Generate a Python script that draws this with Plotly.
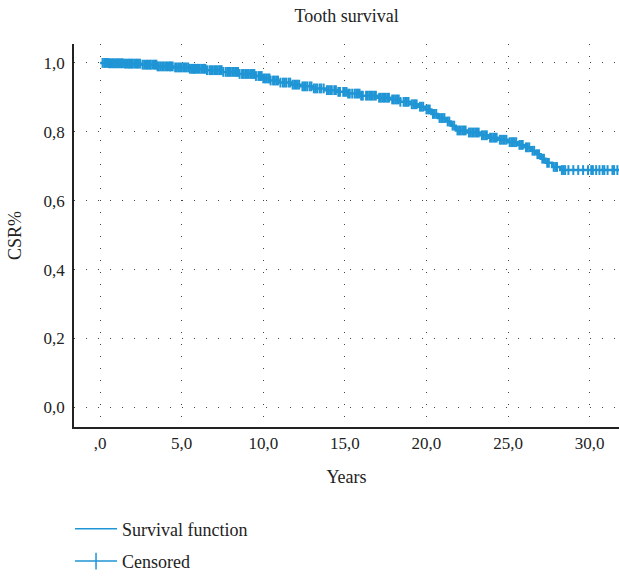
import plotly.graph_objects as go
import bisect

# Kaplan-Meier step points (event times in years, survival after event)
event_times = [0.0, 0.5, 1.5, 2.5, 3.5, 4.5, 5.5, 6.5, 7.5, 8.5, 9.5, 10.0, 10.4, 11.0,
               11.7, 12.3, 13.0, 13.8, 14.5, 15.2, 16.0, 17.0, 17.8, 18.4, 19.0, 19.5,
               19.9, 20.3, 20.7, 21.2, 21.5, 21.8, 22.5, 23.3, 23.8, 24.4, 25.0, 25.6,
               26.0, 26.4, 26.7, 27.0, 27.3, 27.7, 28.2]
survival = [1.0, 0.999, 0.998, 0.995, 0.990, 0.987, 0.983, 0.979, 0.974, 0.968, 0.962,
            0.955, 0.949, 0.943, 0.937, 0.932, 0.926, 0.921, 0.916, 0.911, 0.905, 0.899,
            0.894, 0.887, 0.880, 0.873, 0.865, 0.852, 0.840, 0.830, 0.818, 0.804, 0.798,
            0.790, 0.783, 0.777, 0.770, 0.762, 0.755, 0.745, 0.735, 0.722, 0.710, 0.698,
            0.689]
end_time = 31.8

# Censored observation times (years)
censored_times = [0.15, 0.25, 0.3, 0.4, 0.48, 0.55, 0.62, 0.7, 0.78, 0.85, 0.95, 1.02, 1.1,
                  1.18, 1.25, 1.33, 1.4, 1.52, 1.6, 1.7, 1.78, 1.85, 1.93, 2.0, 2.1, 2.2,
                  2.28, 2.35, 2.45, 2.6, 2.7, 2.8, 2.88, 2.95, 3.05, 3.1, 3.2, 3.3, 3.38,
                  3.45, 3.52, 3.6, 3.7, 3.8, 3.9, 4.0, 4.1, 4.2, 4.28, 4.35, 4.45, 4.6,
                  4.7, 4.8, 4.9, 5.0, 5.1, 5.2, 5.3, 5.4, 5.5, 5.6, 5.68, 5.75, 5.82, 5.9,
                  6.0, 6.1, 6.2, 6.3, 6.38, 6.45, 6.55, 6.7, 6.8, 6.9, 7.0, 7.1, 7.2, 7.3,
                  7.38, 7.45, 7.55, 7.7, 7.8, 7.9, 8.0, 8.1, 8.2, 8.3, 8.38, 8.45, 8.55,
                  8.7, 8.8, 8.9, 9.0, 9.1, 9.2, 9.3, 9.38, 9.45, 9.55, 9.7, 9.8, 9.9,
                  10.0, 10.1, 10.2, 10.3, 10.38, 10.45, 10.6, 10.7, 10.8, 10.9, 11.05,
                  11.2, 11.3, 11.4, 11.55, 11.65, 11.8, 11.9, 12.0, 12.1, 12.2, 12.4,
                  12.5, 12.6, 12.7, 12.85, 12.95, 13.1, 13.2, 13.3, 13.45, 13.55, 13.7,
                  13.9, 14.0, 14.1, 14.2, 14.35, 14.45, 14.6, 14.7, 14.9, 15.0, 15.1,
                  15.2, 15.3, 15.45, 15.6, 15.7, 15.8, 15.9, 16.0, 16.1, 16.3, 16.4,
                  16.5, 16.6, 16.7, 16.8, 16.9, 17.1, 17.2, 17.3, 17.4, 17.5, 17.6, 17.7,
                  17.9, 18.0, 18.1, 18.2, 18.3, 18.4, 18.6, 18.7, 18.8, 18.9, 19.1, 19.2,
                  19.3, 19.4, 19.6, 19.7, 19.8, 20.0, 20.1, 20.2, 20.4, 20.5, 20.6, 20.8,
                  20.9, 21.0, 21.1, 21.3, 21.4, 21.6, 21.7, 21.9, 22.0, 22.1, 22.2, 22.3,
                  22.4, 22.6, 22.7, 22.8, 22.9, 23.0, 23.1, 23.2, 23.4, 23.5, 23.6, 23.7,
                  23.9, 24.0, 24.1, 24.2, 24.3, 24.5, 24.6, 24.7, 24.8, 24.9, 25.1, 25.2,
                  25.3, 25.4, 25.5, 25.7, 25.8, 25.9, 26.1, 26.2, 26.3, 26.5, 26.6, 26.8,
                  26.9, 27.1, 27.2, 27.4, 27.5, 27.8, 27.9, 28.0, 28.3, 28.4,
                  28.5, 28.7, 29.0, 29.3, 29.6, 29.9, 30.1, 30.2, 30.4, 30.6, 30.8, 30.9,
                  31.1, 31.4, 31.5, 31.7]

x_ticks = [0, 5, 10, 15, 20, 25, 30]
x_tick_labels = [",0", "5,0", "10,0", "15,0", "20,0", "25,0", "30,0"]
y_ticks = [0.0, 0.2, 0.4, 0.6, 0.8, 1.0]
y_tick_labels = ["0,0", "0,2", "0,4", "0,6", "0,8", "1,0"]

BLUE = "#1f95d5"
FONT = "Liberation Serif, Times New Roman, serif"
TXT = "#222"

def surv_at(t):
    i = bisect.bisect_right(event_times, t) - 1
    return survival[max(i, 0)]

censored_y = [surv_at(t) for t in censored_times]

fig = go.Figure()
fig.add_trace(go.Scatter(
    x=event_times + [end_time], y=survival + [survival[-1]],
    mode="lines", line=dict(shape="hv", color=BLUE, width=2.5),
    showlegend=False, hoverinfo="skip"))
fig.add_trace(go.Scatter(
    x=censored_times, y=censored_y, mode="markers",
    marker=dict(symbol="line-ns", size=7, line=dict(color=BLUE, width=2)),
    showlegend=False, hoverinfo="skip"))
# legend entries
fig.add_trace(go.Scatter(x=[None], y=[None], mode="lines", name="Survival function",
                         legendgroup="a", line=dict(color=BLUE, width=1.5)))
fig.add_trace(go.Scatter(x=[None], y=[None], mode="lines+markers", name="Censored",
                         legendgroup="b", line=dict(color=BLUE, width=1.5),
                         marker=dict(symbol="line-ns", size=12, line=dict(color=BLUE, width=1.5))))

grid = dict(showgrid=True, gridcolor="#444", gridwidth=1, griddash="1px,11px")
tickfont = dict(family=FONT, size=17, color=TXT)
fig.update_layout(
    width=619, height=580, autosize=False,
    margin=dict(l=74, r=0, t=44, b=148),
    paper_bgcolor="white", plot_bgcolor="white",
    font=dict(family=FONT, size=17, color=TXT),
    title=dict(text="Tooth survival", x=0.56, xanchor="center", y=0.983, yanchor="top",
               font=dict(family=FONT, size=18, color=TXT)),
    xaxis=dict(range=[-1.6, 31.8], tickvals=x_ticks, ticktext=x_tick_labels,
               tickfont=tickfont, automargin=False,
               showline=True, linecolor="#222", linewidth=1.5, zeroline=False,
               ticks="", title=dict(text="Years", standoff=18,
                                    font=dict(family=FONT, size=18, color=TXT)), **grid),
    yaxis=dict(range=[-0.057, 1.055], tickvals=y_ticks, ticktext=y_tick_labels,
               tickfont=tickfont, automargin=False, ticklabelstandoff=4,
               showline=True, linecolor="#222", linewidth=1.5, zeroline=False,
               ticks="", title=dict(text="CSR%", standoff=17,
                                    font=dict(family=FONT, size=18, color=TXT)), **grid),
    legend=dict(x=-0.0073, xanchor="left", y=-0.218, yanchor="top",
                font=dict(family=FONT, size=18, color=TXT),
                itemwidth=42, tracegroupgap=6, bgcolor="rgba(0,0,0,0)"),
)
fig.write_html("out.html", config={"displayModeBar": False, "responsive": False},
               post_script="document.body.style.margin='0';"
                           "document.documentElement.style.overflow='hidden';")
